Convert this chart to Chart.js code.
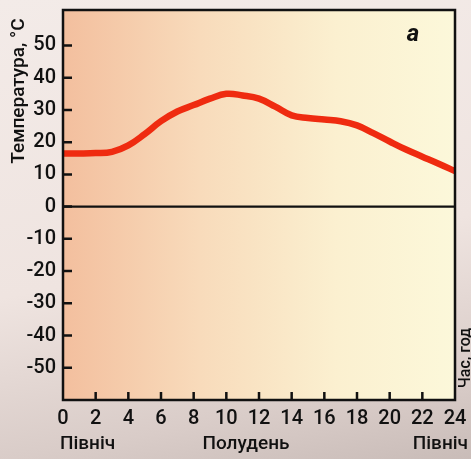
<!DOCTYPE html>
<html>
<head>
<meta charset="utf-8">
<script src="https://cdn.jsdelivr.net/npm/chart.js@4"></script>
<style>
  html, body { margin: 0; padding: 0; }
  body {
    width: 471px; height: 459px; overflow: hidden;
    background: linear-gradient(170deg, #f3ebe8 0%, #efe4e0 55%, #d9ccc8 85%, #c9bcb8 100%);
  }
  #wrap { position: relative; width: 471px; height: 459px; }
</style>
</head>
<body>
<div id="wrap"><canvas id="myChart" width="471" height="459"></canvas></div>
<script>
// hours of the day and temperature read at each hour
const hours = [0, 1, 2, 3, 4, 5, 6, 7, 8, 9, 10, 11, 12, 13, 14, 15, 16, 17, 18, 19, 20, 21, 22, 23, 24];
const temps = [16.5, 16.5, 16.6, 17, 19, 22.5, 26.5, 29.5, 31.5, 33.5, 35, 34.5, 33.5, 31, 28.3, 27.5, 27, 26.5, 25.2, 22.8, 20.2, 17.7, 15.5, 13.3, 11];

const yTicks = [-50, -40, -30, -20, -10, 0, 10, 20, 30, 40, 50];
const xTicks = [0, 2, 4, 6, 8, 10, 12, 14, 16, 18, 20, 22, 24];
const dayLabels = [
  { hour: 0, text: 'Північ', align: 'left' },
  { hour: 12, text: 'Полудень', align: 'center' },
  { hour: 24, text: 'Північ', align: 'right' },
];

const FONT = 'Roboto, "Liberation Sans", Arial, sans-serif';

// paper background of the plot, border, inward ticks, zero line and captions
const framePlugin = {
  id: 'frame',
  beforeDraw(chart) {
    const { ctx, chartArea: a } = chart;
    const g = ctx.createLinearGradient(a.left, 0, a.right, 0);
    g.addColorStop(0, '#f3bf9e');
    g.addColorStop(0.35, '#f8dbbb');
    g.addColorStop(0.7, '#fbf0d0');
    g.addColorStop(1, '#fcf8da');
    ctx.save();
    ctx.fillStyle = g;
    ctx.fillRect(a.left, a.top, a.right - a.left, a.bottom - a.top);
    ctx.restore();
  },
  afterDatasetsDraw(chart) {
    const { ctx, chartArea: a, scales } = chart;
    const x = scales.x, y = scales.y;
    ctx.save();
    ctx.strokeStyle = '#111';
    ctx.lineWidth = 2.5;
    ctx.strokeRect(a.left, a.top, a.right - a.left, a.bottom - a.top);

    // zero line
    const y0 = y.getPixelForValue(0);
    ctx.lineWidth = 2.2;
    ctx.beginPath();
    ctx.moveTo(a.left, y0);
    ctx.lineTo(a.right, y0);
    ctx.stroke();

    // inward tick marks
    ctx.lineWidth = 2.5;
    ctx.beginPath();
    yTicks.forEach(v => {
      const py = y.getPixelForValue(v);
      ctx.moveTo(a.left, py);
      ctx.lineTo(a.left + 9, py);
    });
    xTicks.slice(1, -1).forEach(v => {
      const px = x.getPixelForValue(v);
      ctx.moveTo(px, a.bottom);
      ctx.lineTo(px, a.bottom - 8);
    });
    ctx.stroke();

    ctx.fillStyle = '#111';
    // axis title
    ctx.save();
    ctx.translate(19, 91);
    ctx.rotate(-Math.PI / 2);
    ctx.font = '500 19px ' + FONT;
    ctx.textAlign = 'center';
    ctx.textBaseline = 'middle';
    ctx.fillText('Температура, °C', 0, 0);
    ctx.restore();

    // time axis caption, partly off the edge
    ctx.save();
    ctx.translate(466, 358);
    ctx.rotate(-Math.PI / 2);
    ctx.font = '500 16px ' + FONT;
    ctx.textAlign = 'center';
    ctx.textBaseline = 'middle';
    ctx.fillText('Час, год', 0, 0);
    ctx.restore();

    // panel letter
    ctx.font = 'italic bold 24px ' + FONT;
    ctx.textAlign = 'center';
    ctx.textBaseline = 'middle';
    ctx.fillText('а', 413, 35);

    // midnight / noon captions
    ctx.font = '500 19px ' + FONT;
    ctx.textBaseline = 'middle';
    dayLabels.forEach(d => {
      let px = x.getPixelForValue(d.hour);
      if (d.align === 'left') px -= 3;
      if (d.align === 'right') px += 13;
      if (d.align === 'center') px -= 13;
      ctx.textAlign = d.align;
      ctx.fillText(d.text, px, 444);
    });
    ctx.restore();
  },
};

const main = () => {
  let ctx = document.getElementById('myChart').getContext('2d');

  const config = {
    type: 'line',
    data: {
      datasets: [
        {
          label: 'Температура',
          data: hours.map((h, i) => ({ x: h, y: temps[i] })),
          borderColor: '#ef2b10',
          borderWidth: 6.5,
          borderCapStyle: 'round',
          borderJoinStyle: 'round',
          tension: 0.4,
          pointRadius: 0,
          fill: false,
        },
      ],
    },
    options: {
      responsive: false,
      animation: false,
      events: [],
      layout: { padding: { top: 10, right: 16, left: 0, bottom: 0 } },
      plugins: {
        legend: { display: false },
        tooltip: { enabled: false },
        title: { display: false },
      },
      scales: {
        x: {
          type: 'linear',
          min: 0,
          max: 24,
          afterBuildTicks: s => { s.ticks = xTicks.map(v => ({ value: v })); },
          afterFit: s => { s.height = 59; s.paddingLeft = 0; s.paddingRight = 0; },
          grid: { display: false, drawTicks: false },
          border: { display: false },
          ticks: {
            padding: 7,
            color: '#111',
            font: { family: FONT, size: 20, weight: '500' },
            maxRotation: 0,
            autoSkip: false,
          },
        },
        y: {
          min: -60,
          max: 61,
          afterBuildTicks: s => { s.ticks = yTicks.map(v => ({ value: v })); },
          afterFit: s => { s.width = 63; s.paddingTop = 0; s.paddingBottom = 0; },
          grid: { display: false, drawTicks: false },
          border: { display: false },
          ticks: {
            padding: 7,
            color: '#111',
            font: { family: FONT, size: 20, weight: '500' },
            callback: v => (v < 0 ? '-' + Math.abs(v) : String(v)),
          },
        },
      },
    },
    plugins: [framePlugin],
  };

  let myChart = new Chart(ctx, config);
};

main();
</script>
</body>
</html>
